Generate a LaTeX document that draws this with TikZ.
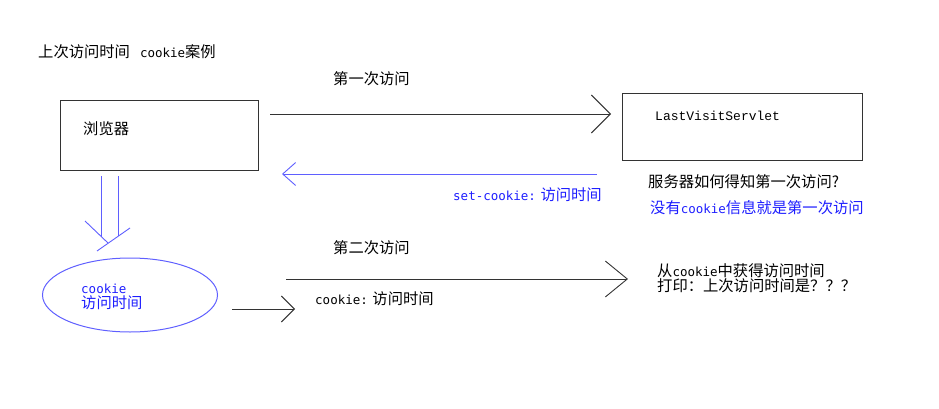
\documentclass[tikz,border=0pt]{standalone}
\usepackage{fontspec}
\setmainfont{Noto Sans CJK SC}
\setmonofont{DejaVu Sans Mono}
\newfontfamily\servletfont{Liberation Mono}
\usepackage{tikz}
\usetikzlibrary{shapes,arrows,positioning,calc,arrows.meta}
\definecolor{txtblue}{RGB}{30,30,255}
\definecolor{lineblue}{RGB}{95,95,255}
\newcommand{\cw}[1]{\texttt{\fontsize{12.5}{14}\selectfont #1}}
\tikzset{
    txt/.style={anchor=base west, inner sep=0pt, font=\fontsize{15.3}{16}\selectfont},
    code/.style={font=\fontsize{12.5}{14}\ttfamily},
    box/.style={draw=black!80, line width=1pt, anchor=north west},
    conn/.style={line width=0.9pt},
}

\begin{document}
\begin{tikzpicture}[x=1pt, y=-1pt]
    \useasboundingbox (0,0) rectangle (939,409);

    % title
    \node[txt] (title) at (38,58) {上次访问时间\hspace{10pt}\cw{cookie}案例};

    % browser and server
    \node[box, minimum width=198pt, minimum height=70pt] (browser) at (60,100) {};
    \node[txt] (browsertext) at (83,135) {浏览器};
    \node[box, minimum width=240pt, minimum height=67pt] (server) at (622,93) {};
    \node[txt, font=\fontsize{13}{15}\servletfont] (servlettext) at (655,121) {LastVisitServlet};

    % first visit
    \coordinate (req1s) at (270,114);
    \coordinate (req1e) at (611,114);
    \draw[conn, black!80, -{Straight Barb[length=19pt,width=38pt,line width=0.9pt]}] (req1s) -- (req1e);
    \node[txt] (req1) at (333,85) {第一次访问};

    % response
    \coordinate (res1s) at (597,174);
    \coordinate (res1e) at (282,174);
    \draw[conn, lineblue, -{Straight Barb[length=13pt,width=23pt,line width=0.9pt]}] (res1s) -- (res1e);
    \node[txt, txtblue] (res1) at (453,200) {\cw{set-cookie:} 访问时间};

    \node[txt] (question) at (648,187) {服务器如何得知第一次访问?};
    \node[txt, txtblue] (answer) at (650,213) {没有\cw{cookie}信息就是第一次访问};

    % browser stores the cookie
    \draw[conn, lineblue] (101,176) -- (101,237);
    \draw[conn, lineblue] (118,176) -- (118,236);
    \draw[conn, lineblue] (85,221) -- (108,243);
    \draw[conn, lineblue] (130,228) -- (97,251);

    \node[ellipse, draw=lineblue, line width=1pt, minimum width=175pt, minimum height=74pt] (cookie) at (130,295) {};
    \node[txt, txtblue, code] (cookiename) at (81,293) {cookie};
    \node[txt, txtblue] (cookieval) at (81,308) {访问时间};

    % second visit
    \coordinate (sends) at (232,309);
    \coordinate (sende) at (295,309);
    \draw[conn, black!80, -{Straight Barb[length=13pt,width=26pt,line width=0.9pt]}] (sends) -- (sende);
    \coordinate (req2s) at (286,279);
    \coordinate (req2e) at (628,279);
    \draw[conn, black!80, -{Straight Barb[length=22pt,width=36pt,line width=0.9pt]}] (req2s) -- (req2e);
    \node[txt] (req2) at (333,253) {第二次访问};
    \node[txt] (req2cookie) at (315,304) {\cw{cookie:} 访问时间};

    \node[txt] (read) at (657,276) {从\cw{cookie}中获得访问时间};
    \node[txt] (print) at (657,291) {打印：上次访问时间是？？？};
\end{tikzpicture}
\end{document}
